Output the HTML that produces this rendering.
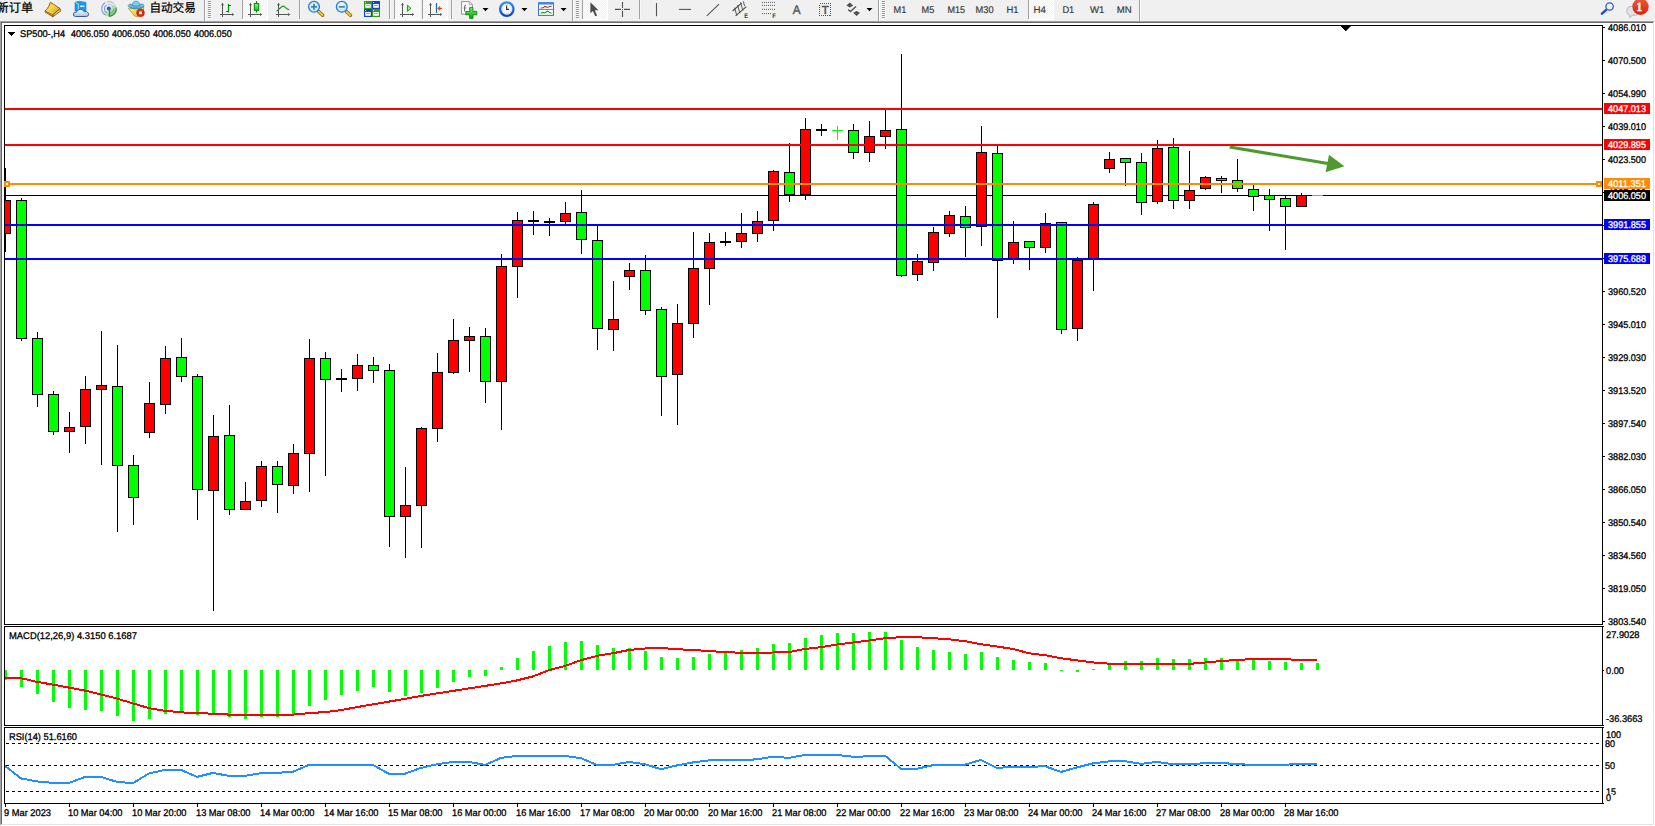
<!DOCTYPE html>
<html lang="zh"><head><meta charset="utf-8"><title>SP500-,H4</title>
<style>html,body{margin:0;padding:0;background:#f0f0f0}body{width:1655px;height:826px}svg{display:block}text{white-space:pre;text-rendering:geometricPrecision}</style>
</head><body>
<svg width="1655" height="826" viewBox="0 0 1655 826" shape-rendering="crispEdges" font-family='"Liberation Sans", sans-serif' style="display:block">
<defs>
<pattern id="chk" width="2" height="2" patternUnits="userSpaceOnUse"><rect width="2" height="2" fill="#f0f0f0"/><rect width="1" height="1" fill="#fff"/><rect x="1" y="1" width="1" height="1" fill="#fff"/></pattern>
<linearGradient id="gold" x1="0" y1="0" x2="1" y2="1"><stop offset="0" stop-color="#f2c83a"/><stop offset=".45" stop-color="#f7d84a"/><stop offset="1" stop-color="#c48a12"/></linearGradient>
<linearGradient id="cloud" x1="0" y1="0" x2="0" y2="1"><stop offset="0" stop-color="#ffffff"/><stop offset="1" stop-color="#aebfdc"/></linearGradient>
<linearGradient id="badge" x1="0" y1="0" x2="0" y2="1"><stop offset="0" stop-color="#ea5a3c"/><stop offset="1" stop-color="#de2208"/></linearGradient>
<linearGradient id="gcandle" x1="0" y1="0" x2="0" y2="1"><stop offset="0" stop-color="#7dff8a"/><stop offset="1" stop-color="#0ac41e"/></linearGradient>
<linearGradient id="gplus" x1="0" y1="0" x2="0" y2="1"><stop offset="0" stop-color="#6cf06c"/><stop offset="1" stop-color="#06a806"/></linearGradient>
<clipPath id="cm"><rect x="5" y="26" width="1597" height="598"/></clipPath>
<clipPath id="cd"><rect x="5" y="627" width="1597" height="98"/></clipPath>
<clipPath id="cr"><rect x="5" y="728" width="1597" height="75"/></clipPath>
<linearGradient id="sigg" x1="0" y1="0" x2="1" y2="1"><stop offset=".42" stop-color="#58b058" stop-opacity="0"/><stop offset=".62" stop-color="#58b058" stop-opacity=".35"/><stop offset="1" stop-color="#2e9a3a" stop-opacity=".85"/></linearGradient>
<linearGradient id="sigs" x1="0" y1="0" x2="1" y2=".6"><stop offset="0" stop-color="#3a66d8" stop-opacity=".75"/><stop offset=".45" stop-color="#5a80e0" stop-opacity=".35"/><stop offset=".6" stop-color="#58a868" stop-opacity=".5"/><stop offset="1" stop-color="#2a8a38" stop-opacity=".9"/></linearGradient>
<radialGradient id="lens" cx=".4" cy=".35" r=".7"><stop offset="0" stop-color="#f2fcff"/><stop offset="1" stop-color="#b4e2fb"/></radialGradient>
<linearGradient id="hat" x1="0" y1="0" x2="0" y2="1"><stop offset="0" stop-color="#8fd0ee"/><stop offset="1" stop-color="#3a9ccc"/></linearGradient>
<linearGradient id="face" x1="0" y1="0" x2="1" y2="1"><stop offset="0" stop-color="#fff08a"/><stop offset="1" stop-color="#e8b818"/></linearGradient>
<linearGradient id="clk" x1="0" y1="0" x2="0" y2="1"><stop offset="0" stop-color="#3a8cf0"/><stop offset="1" stop-color="#0a48b8"/></linearGradient>
</defs>
<rect x="0" y="0" width="1655" height="826" fill="#f0f0f0" />
<rect x="0" y="21" width="1654" height="804" fill="#a0a0a0" />
<rect x="1" y="22" width="1653" height="803" fill="#696969" />
<rect x="1654" y="21" width="1" height="805" fill="#ffffff" />
<rect x="0" y="825" width="1655" height="1" fill="#ffffff" />
<rect x="1653" y="22" width="1" height="803" fill="#e3e3e3" />
<rect x="1" y="824" width="1653" height="1" fill="#e3e3e3" />
<rect x="2" y="23" width="1651" height="801" fill="#ffffff" />
<rect x="4" y="25" width="1599" height="1" fill="#000" />
<rect x="4" y="624" width="1599" height="1" fill="#000" />
<rect x="4" y="25" width="1" height="600" fill="#000" />
<rect x="1602" y="25" width="1" height="600" fill="#000" />
<rect x="4" y="626" width="1599" height="1" fill="#000" />
<rect x="4" y="725" width="1599" height="1" fill="#000" />
<rect x="4" y="626" width="1" height="100" fill="#000" />
<rect x="1602" y="626" width="1" height="100" fill="#000" />
<rect x="4" y="727" width="1599" height="1" fill="#000" />
<rect x="4" y="803" width="1599" height="1" fill="#000" />
<rect x="4" y="727" width="1" height="77" fill="#000" />
<rect x="1602" y="727" width="1" height="77" fill="#000" />
<path d="M1341 26h10l-5 5z" fill="#000" shape-rendering="geometricPrecision"/>
<rect x="1341" y="26" width="9" height="1" fill="#000" />
<rect x="1342" y="27" width="7" height="1" fill="#000" />
<rect x="1343" y="28" width="5" height="1" fill="#000" />
<rect x="1344" y="29" width="3" height="1" fill="#000" />
<rect x="1345" y="30" width="1" height="1" fill="#000" />
<rect x="1603" y="27" width="2" height="1" fill="#000" />
<text x="1608" y="31" font-size="9.7" fill="#000" stroke="#000" stroke-width="0.3" textLength="38" lengthAdjust="spacingAndGlyphs" >4086.010</text>
<rect x="1603" y="60" width="2" height="1" fill="#000" />
<text x="1608" y="64" font-size="9.7" fill="#000" stroke="#000" stroke-width="0.3" textLength="38" lengthAdjust="spacingAndGlyphs" >4070.500</text>
<rect x="1603" y="93" width="2" height="1" fill="#000" />
<text x="1608" y="97" font-size="9.7" fill="#000" stroke="#000" stroke-width="0.3" textLength="38" lengthAdjust="spacingAndGlyphs" >4054.990</text>
<rect x="1603" y="126" width="2" height="1" fill="#000" />
<text x="1608" y="130" font-size="9.7" fill="#000" stroke="#000" stroke-width="0.3" textLength="38" lengthAdjust="spacingAndGlyphs" >4039.010</text>
<rect x="1603" y="159" width="2" height="1" fill="#000" />
<text x="1608" y="163" font-size="9.7" fill="#000" stroke="#000" stroke-width="0.3" textLength="38" lengthAdjust="spacingAndGlyphs" >4023.500</text>
<rect x="1603" y="192" width="2" height="1" fill="#000" />
<text x="1608" y="196" font-size="9.7" fill="#000" stroke="#000" stroke-width="0.3" textLength="38" lengthAdjust="spacingAndGlyphs" >4007.990</text>
<rect x="1603" y="225" width="2" height="1" fill="#000" />
<text x="1608" y="229" font-size="9.7" fill="#000" stroke="#000" stroke-width="0.3" textLength="38" lengthAdjust="spacingAndGlyphs" >3992.010</text>
<rect x="1603" y="258" width="2" height="1" fill="#000" />
<text x="1608" y="262" font-size="9.7" fill="#000" stroke="#000" stroke-width="0.3" textLength="38" lengthAdjust="spacingAndGlyphs" >3976.500</text>
<rect x="1603" y="291" width="2" height="1" fill="#000" />
<text x="1608" y="295" font-size="9.7" fill="#000" stroke="#000" stroke-width="0.3" textLength="38" lengthAdjust="spacingAndGlyphs" >3960.520</text>
<rect x="1603" y="324" width="2" height="1" fill="#000" />
<text x="1608" y="328" font-size="9.7" fill="#000" stroke="#000" stroke-width="0.3" textLength="38" lengthAdjust="spacingAndGlyphs" >3945.010</text>
<rect x="1603" y="357" width="2" height="1" fill="#000" />
<text x="1608" y="361" font-size="9.7" fill="#000" stroke="#000" stroke-width="0.3" textLength="38" lengthAdjust="spacingAndGlyphs" >3929.030</text>
<rect x="1603" y="390" width="2" height="1" fill="#000" />
<text x="1608" y="394" font-size="9.7" fill="#000" stroke="#000" stroke-width="0.3" textLength="38" lengthAdjust="spacingAndGlyphs" >3913.520</text>
<rect x="1603" y="423" width="2" height="1" fill="#000" />
<text x="1608" y="427" font-size="9.7" fill="#000" stroke="#000" stroke-width="0.3" textLength="38" lengthAdjust="spacingAndGlyphs" >3897.540</text>
<rect x="1603" y="456" width="2" height="1" fill="#000" />
<text x="1608" y="460" font-size="9.7" fill="#000" stroke="#000" stroke-width="0.3" textLength="38" lengthAdjust="spacingAndGlyphs" >3882.030</text>
<rect x="1603" y="489" width="2" height="1" fill="#000" />
<text x="1608" y="493" font-size="9.7" fill="#000" stroke="#000" stroke-width="0.3" textLength="38" lengthAdjust="spacingAndGlyphs" >3866.050</text>
<rect x="1603" y="522" width="2" height="1" fill="#000" />
<text x="1608" y="526" font-size="9.7" fill="#000" stroke="#000" stroke-width="0.3" textLength="38" lengthAdjust="spacingAndGlyphs" >3850.540</text>
<rect x="1603" y="555" width="2" height="1" fill="#000" />
<text x="1608" y="559" font-size="9.7" fill="#000" stroke="#000" stroke-width="0.3" textLength="38" lengthAdjust="spacingAndGlyphs" >3834.560</text>
<rect x="1603" y="588" width="2" height="1" fill="#000" />
<text x="1608" y="592" font-size="9.7" fill="#000" stroke="#000" stroke-width="0.3" textLength="38" lengthAdjust="spacingAndGlyphs" >3819.050</text>
<rect x="1603" y="621" width="2" height="1" fill="#000" />
<text x="1608" y="625" font-size="9.7" fill="#000" stroke="#000" stroke-width="0.3" textLength="38" lengthAdjust="spacingAndGlyphs" >3803.540</text>
<rect x="5" y="195" width="1597" height="1" fill="#000" />
<g clip-path="url(#cm)">
<rect x="5" y="168" width="1" height="84" fill="#000" />
<rect x="0" y="200" width="11" height="34" fill="#000" />
<rect x="1" y="201" width="9" height="32" fill="#ff0000" />
<rect x="21" y="198" width="1" height="143" fill="#000" />
<rect x="16" y="200" width="11" height="139" fill="#000" />
<rect x="17" y="201" width="9" height="137" fill="#00ff00" />
<rect x="37" y="332" width="1" height="75" fill="#000" />
<rect x="32" y="338" width="11" height="57" fill="#000" />
<rect x="33" y="339" width="9" height="55" fill="#00ff00" />
<rect x="53" y="391" width="1" height="44" fill="#000" />
<rect x="48" y="394" width="11" height="38" fill="#000" />
<rect x="49" y="395" width="9" height="36" fill="#00ff00" />
<rect x="69" y="412" width="1" height="41" fill="#000" />
<rect x="64" y="427" width="11" height="5" fill="#000" />
<rect x="65" y="428" width="9" height="3" fill="#ff0000" />
<rect x="85" y="376" width="1" height="68" fill="#000" />
<rect x="80" y="389" width="11" height="38" fill="#000" />
<rect x="81" y="390" width="9" height="36" fill="#ff0000" />
<rect x="101" y="331" width="1" height="134" fill="#000" />
<rect x="96" y="385" width="11" height="5" fill="#000" />
<rect x="97" y="386" width="9" height="3" fill="#ff0000" />
<rect x="117" y="345" width="1" height="187" fill="#000" />
<rect x="112" y="386" width="11" height="80" fill="#000" />
<rect x="113" y="387" width="9" height="78" fill="#00ff00" />
<rect x="133" y="455" width="1" height="70" fill="#000" />
<rect x="128" y="465" width="11" height="33" fill="#000" />
<rect x="129" y="466" width="9" height="31" fill="#00ff00" />
<rect x="149" y="382" width="1" height="56" fill="#000" />
<rect x="144" y="403" width="11" height="30" fill="#000" />
<rect x="145" y="404" width="9" height="28" fill="#ff0000" />
<rect x="165" y="346" width="1" height="68" fill="#000" />
<rect x="160" y="358" width="11" height="47" fill="#000" />
<rect x="161" y="359" width="9" height="45" fill="#ff0000" />
<rect x="181" y="338" width="1" height="44" fill="#000" />
<rect x="176" y="357" width="11" height="20" fill="#000" />
<rect x="177" y="358" width="9" height="18" fill="#00ff00" />
<rect x="197" y="374" width="1" height="146" fill="#000" />
<rect x="192" y="376" width="11" height="114" fill="#000" />
<rect x="193" y="377" width="9" height="112" fill="#00ff00" />
<rect x="213" y="415" width="1" height="196" fill="#000" />
<rect x="208" y="436" width="11" height="55" fill="#000" />
<rect x="209" y="437" width="9" height="53" fill="#ff0000" />
<rect x="229" y="405" width="1" height="110" fill="#000" />
<rect x="224" y="435" width="11" height="75" fill="#000" />
<rect x="225" y="436" width="9" height="73" fill="#00ff00" />
<rect x="245" y="482" width="1" height="28" fill="#000" />
<rect x="240" y="501" width="11" height="9" fill="#000" />
<rect x="241" y="502" width="9" height="7" fill="#ff0000" />
<rect x="261" y="461" width="1" height="46" fill="#000" />
<rect x="256" y="466" width="11" height="35" fill="#000" />
<rect x="257" y="467" width="9" height="33" fill="#ff0000" />
<rect x="277" y="461" width="1" height="52" fill="#000" />
<rect x="272" y="466" width="11" height="19" fill="#000" />
<rect x="273" y="467" width="9" height="17" fill="#00ff00" />
<rect x="293" y="444" width="1" height="50" fill="#000" />
<rect x="288" y="453" width="11" height="33" fill="#000" />
<rect x="289" y="454" width="9" height="31" fill="#ff0000" />
<rect x="309" y="339" width="1" height="153" fill="#000" />
<rect x="304" y="358" width="11" height="96" fill="#000" />
<rect x="305" y="359" width="9" height="94" fill="#ff0000" />
<rect x="325" y="352" width="1" height="124" fill="#000" />
<rect x="320" y="358" width="11" height="22" fill="#000" />
<rect x="321" y="359" width="9" height="20" fill="#00ff00" />
<rect x="341" y="369" width="1" height="23" fill="#000" />
<rect x="336" y="378" width="11" height="2" fill="#000" />
<rect x="357" y="354" width="1" height="37" fill="#000" />
<rect x="352" y="365" width="11" height="14" fill="#000" />
<rect x="353" y="366" width="9" height="12" fill="#ff0000" />
<rect x="373" y="357" width="1" height="26" fill="#000" />
<rect x="368" y="365" width="11" height="6" fill="#000" />
<rect x="369" y="366" width="9" height="4" fill="#00ff00" />
<rect x="389" y="364" width="1" height="183" fill="#000" />
<rect x="384" y="370" width="11" height="147" fill="#000" />
<rect x="385" y="371" width="9" height="145" fill="#00ff00" />
<rect x="405" y="467" width="1" height="91" fill="#000" />
<rect x="400" y="505" width="11" height="12" fill="#000" />
<rect x="401" y="506" width="9" height="10" fill="#ff0000" />
<rect x="421" y="427" width="1" height="121" fill="#000" />
<rect x="416" y="428" width="11" height="78" fill="#000" />
<rect x="417" y="429" width="9" height="76" fill="#ff0000" />
<rect x="437" y="353" width="1" height="89" fill="#000" />
<rect x="432" y="372" width="11" height="57" fill="#000" />
<rect x="433" y="373" width="9" height="55" fill="#ff0000" />
<rect x="453" y="319" width="1" height="55" fill="#000" />
<rect x="448" y="340" width="11" height="33" fill="#000" />
<rect x="449" y="341" width="9" height="31" fill="#ff0000" />
<rect x="469" y="327" width="1" height="45" fill="#000" />
<rect x="464" y="336" width="11" height="5" fill="#000" />
<rect x="465" y="337" width="9" height="3" fill="#ff0000" />
<rect x="485" y="328" width="1" height="75" fill="#000" />
<rect x="480" y="336" width="11" height="46" fill="#000" />
<rect x="481" y="337" width="9" height="44" fill="#00ff00" />
<rect x="501" y="254" width="1" height="176" fill="#000" />
<rect x="496" y="266" width="11" height="116" fill="#000" />
<rect x="497" y="267" width="9" height="114" fill="#ff0000" />
<rect x="517" y="212" width="1" height="86" fill="#000" />
<rect x="512" y="220" width="11" height="47" fill="#000" />
<rect x="513" y="221" width="9" height="45" fill="#ff0000" />
<rect x="533" y="211" width="1" height="24" fill="#000" />
<rect x="528" y="220" width="11" height="2" fill="#000" />
<rect x="549" y="218" width="1" height="18" fill="#000" />
<rect x="544" y="221" width="11" height="2" fill="#000" />
<rect x="565" y="202" width="1" height="22" fill="#000" />
<rect x="560" y="213" width="11" height="9" fill="#000" />
<rect x="561" y="214" width="9" height="7" fill="#ff0000" />
<rect x="581" y="190" width="1" height="64" fill="#000" />
<rect x="576" y="212" width="11" height="28" fill="#000" />
<rect x="577" y="213" width="9" height="26" fill="#00ff00" />
<rect x="597" y="226" width="1" height="124" fill="#000" />
<rect x="592" y="240" width="11" height="89" fill="#000" />
<rect x="593" y="241" width="9" height="87" fill="#00ff00" />
<rect x="613" y="281" width="1" height="70" fill="#000" />
<rect x="608" y="319" width="11" height="11" fill="#000" />
<rect x="609" y="320" width="9" height="9" fill="#ff0000" />
<rect x="629" y="263" width="1" height="27" fill="#000" />
<rect x="624" y="270" width="11" height="7" fill="#000" />
<rect x="625" y="271" width="9" height="5" fill="#ff0000" />
<rect x="645" y="255" width="1" height="60" fill="#000" />
<rect x="640" y="270" width="11" height="41" fill="#000" />
<rect x="641" y="271" width="9" height="39" fill="#00ff00" />
<rect x="661" y="307" width="1" height="109" fill="#000" />
<rect x="656" y="309" width="11" height="68" fill="#000" />
<rect x="657" y="310" width="9" height="66" fill="#00ff00" />
<rect x="677" y="304" width="1" height="121" fill="#000" />
<rect x="672" y="323" width="11" height="52" fill="#000" />
<rect x="673" y="324" width="9" height="50" fill="#ff0000" />
<rect x="693" y="232" width="1" height="106" fill="#000" />
<rect x="688" y="268" width="11" height="56" fill="#000" />
<rect x="689" y="269" width="9" height="54" fill="#ff0000" />
<rect x="709" y="233" width="1" height="72" fill="#000" />
<rect x="704" y="242" width="11" height="27" fill="#000" />
<rect x="705" y="243" width="9" height="25" fill="#ff0000" />
<rect x="725" y="232" width="1" height="14" fill="#000" />
<rect x="720" y="241" width="11" height="2" fill="#000" />
<rect x="741" y="213" width="1" height="35" fill="#000" />
<rect x="736" y="233" width="11" height="9" fill="#000" />
<rect x="737" y="234" width="9" height="7" fill="#ff0000" />
<rect x="757" y="211" width="1" height="31" fill="#000" />
<rect x="752" y="221" width="11" height="13" fill="#000" />
<rect x="753" y="222" width="9" height="11" fill="#ff0000" />
<rect x="773" y="170" width="1" height="61" fill="#000" />
<rect x="768" y="171" width="11" height="50" fill="#000" />
<rect x="769" y="172" width="9" height="48" fill="#ff0000" />
<rect x="789" y="143" width="1" height="59" fill="#000" />
<rect x="784" y="172" width="11" height="23" fill="#000" />
<rect x="785" y="173" width="9" height="21" fill="#00ff00" />
<rect x="805" y="118" width="1" height="82" fill="#000" />
<rect x="800" y="129" width="11" height="66" fill="#000" />
<rect x="801" y="130" width="9" height="64" fill="#ff0000" />
<rect x="821" y="124" width="1" height="12" fill="#000" />
<rect x="816" y="129" width="11" height="2" fill="#000" />
<rect x="837" y="126" width="1" height="14" fill="#00ff00" />
<rect x="832" y="130" width="11" height="1" fill="#00ff00" />
<rect x="853" y="124" width="1" height="35" fill="#000" />
<rect x="848" y="130" width="11" height="23" fill="#000" />
<rect x="849" y="131" width="9" height="21" fill="#00ff00" />
<rect x="869" y="121" width="1" height="41" fill="#000" />
<rect x="864" y="136" width="11" height="17" fill="#000" />
<rect x="865" y="137" width="9" height="15" fill="#ff0000" />
<rect x="885" y="110" width="1" height="39" fill="#000" />
<rect x="880" y="130" width="11" height="7" fill="#000" />
<rect x="881" y="131" width="9" height="5" fill="#ff0000" />
<rect x="901" y="54" width="1" height="223" fill="#000" />
<rect x="896" y="129" width="11" height="147" fill="#000" />
<rect x="897" y="130" width="9" height="145" fill="#00ff00" />
<rect x="917" y="254" width="1" height="27" fill="#000" />
<rect x="912" y="261" width="11" height="14" fill="#000" />
<rect x="913" y="262" width="9" height="12" fill="#ff0000" />
<rect x="933" y="227" width="1" height="44" fill="#000" />
<rect x="928" y="232" width="11" height="31" fill="#000" />
<rect x="929" y="233" width="9" height="29" fill="#ff0000" />
<rect x="949" y="211" width="1" height="26" fill="#000" />
<rect x="944" y="215" width="11" height="19" fill="#000" />
<rect x="945" y="216" width="9" height="17" fill="#ff0000" />
<rect x="965" y="206" width="1" height="51" fill="#000" />
<rect x="960" y="216" width="11" height="12" fill="#000" />
<rect x="961" y="217" width="9" height="10" fill="#00ff00" />
<rect x="981" y="126" width="1" height="120" fill="#000" />
<rect x="976" y="152" width="11" height="75" fill="#000" />
<rect x="977" y="153" width="9" height="73" fill="#ff0000" />
<rect x="997" y="146" width="1" height="172" fill="#000" />
<rect x="992" y="153" width="11" height="108" fill="#000" />
<rect x="993" y="154" width="9" height="106" fill="#00ff00" />
<rect x="1013" y="221" width="1" height="43" fill="#000" />
<rect x="1008" y="242" width="11" height="17" fill="#000" />
<rect x="1009" y="243" width="9" height="15" fill="#ff0000" />
<rect x="1029" y="241" width="1" height="29" fill="#000" />
<rect x="1024" y="241" width="11" height="7" fill="#000" />
<rect x="1025" y="242" width="9" height="5" fill="#00ff00" />
<rect x="1045" y="213" width="1" height="40" fill="#000" />
<rect x="1040" y="223" width="11" height="25" fill="#000" />
<rect x="1041" y="224" width="9" height="23" fill="#ff0000" />
<rect x="1061" y="222" width="1" height="112" fill="#000" />
<rect x="1056" y="222" width="11" height="108" fill="#000" />
<rect x="1057" y="223" width="9" height="106" fill="#00ff00" />
<rect x="1077" y="257" width="1" height="84" fill="#000" />
<rect x="1072" y="260" width="11" height="69" fill="#000" />
<rect x="1073" y="261" width="9" height="67" fill="#ff0000" />
<rect x="1093" y="202" width="1" height="89" fill="#000" />
<rect x="1088" y="204" width="11" height="55" fill="#000" />
<rect x="1089" y="205" width="9" height="53" fill="#ff0000" />
<rect x="1109" y="152" width="1" height="21" fill="#000" />
<rect x="1104" y="159" width="11" height="10" fill="#000" />
<rect x="1105" y="160" width="9" height="8" fill="#ff0000" />
<rect x="1125" y="158" width="1" height="28" fill="#000" />
<rect x="1120" y="158" width="11" height="5" fill="#000" />
<rect x="1121" y="159" width="9" height="3" fill="#00ff00" />
<rect x="1141" y="153" width="1" height="62" fill="#000" />
<rect x="1136" y="162" width="11" height="41" fill="#000" />
<rect x="1137" y="163" width="9" height="39" fill="#00ff00" />
<rect x="1157" y="140" width="1" height="64" fill="#000" />
<rect x="1152" y="148" width="11" height="54" fill="#000" />
<rect x="1153" y="149" width="9" height="52" fill="#ff0000" />
<rect x="1173" y="138" width="1" height="71" fill="#000" />
<rect x="1168" y="147" width="11" height="54" fill="#000" />
<rect x="1169" y="148" width="9" height="52" fill="#00ff00" />
<rect x="1189" y="151" width="1" height="58" fill="#000" />
<rect x="1184" y="190" width="11" height="11" fill="#000" />
<rect x="1185" y="191" width="9" height="9" fill="#ff0000" />
<rect x="1205" y="176" width="1" height="14" fill="#000" />
<rect x="1200" y="177" width="11" height="12" fill="#000" />
<rect x="1201" y="178" width="9" height="10" fill="#ff0000" />
<rect x="1221" y="176" width="1" height="17" fill="#000" />
<rect x="1216" y="178" width="11" height="3" fill="#000" />
<rect x="1217" y="179" width="9" height="1" fill="#00ff00" />
<rect x="1237" y="159" width="1" height="33" fill="#000" />
<rect x="1232" y="180" width="11" height="9" fill="#000" />
<rect x="1233" y="181" width="9" height="7" fill="#00ff00" />
<rect x="1253" y="185" width="1" height="26" fill="#000" />
<rect x="1248" y="189" width="11" height="8" fill="#000" />
<rect x="1249" y="190" width="9" height="6" fill="#00ff00" />
<rect x="1269" y="189" width="1" height="42" fill="#000" />
<rect x="1264" y="195" width="11" height="5" fill="#000" />
<rect x="1265" y="196" width="9" height="3" fill="#00ff00" />
<rect x="1285" y="196" width="1" height="54" fill="#000" />
<rect x="1280" y="198" width="11" height="9" fill="#000" />
<rect x="1281" y="199" width="9" height="7" fill="#00ff00" />
<rect x="1301" y="193" width="1" height="14" fill="#000" />
<rect x="1296" y="195" width="11" height="12" fill="#000" />
<rect x="1297" y="196" width="9" height="10" fill="#ff0000" />
</g>
<rect x="2" y="26" width="2" height="598" fill="#fff" />
<rect x="4" y="25" width="1" height="600" fill="#000" />
<rect x="5" y="108" width="1597" height="2" fill="#ff0000" />
<rect x="5" y="144" width="1597" height="2" fill="#ff0000" />
<rect x="5" y="224" width="1597" height="2" fill="#0000ff" />
<rect x="5" y="258" width="1597" height="2" fill="#0000ff" />
<rect x="1312" y="195" width="11" height="1" fill="#00ff00" />
<rect x="5" y="183" width="1597" height="2" fill="#ff8c00" />
<rect x="4" y="181" width="6" height="6" fill="#ff8c00" />
<rect x="6" y="183" width="2" height="2" fill="#fff" />
<rect x="1596" y="181" width="6" height="6" fill="#ff8c00" />
<rect x="1598" y="183" width="2" height="2" fill="#fff" />
<rect x="4" y="25" width="1" height="156" fill="#000" />
<rect x="4" y="187" width="1" height="438" fill="#000" />
<rect x="1604" y="103" width="46" height="11" fill="#ff0000" />
<text x="1608" y="112" font-size="9.7" fill="#fff" stroke="#fff" stroke-width="0.3" textLength="38" lengthAdjust="spacingAndGlyphs" >4047.013</text>
<rect x="1604" y="139" width="46" height="11" fill="#ff0000" />
<text x="1608" y="148" font-size="9.7" fill="#fff" stroke="#fff" stroke-width="0.3" textLength="38" lengthAdjust="spacingAndGlyphs" >4029.895</text>
<rect x="1604" y="190" width="46" height="11" fill="#000000" />
<text x="1608" y="199" font-size="9.7" fill="#fff" stroke="#fff" stroke-width="0.3" textLength="38" lengthAdjust="spacingAndGlyphs" >4006.050</text>
<rect x="1604" y="178" width="46" height="11" fill="#ff8c00" />
<text x="1608" y="187" font-size="9.7" fill="#fff" stroke="#fff" stroke-width="0.3" textLength="38" lengthAdjust="spacingAndGlyphs" >4011.351</text>
<rect x="1604" y="219" width="46" height="11" fill="#0000ff" />
<text x="1608" y="228" font-size="9.7" fill="#fff" stroke="#fff" stroke-width="0.3" textLength="38" lengthAdjust="spacingAndGlyphs" >3991.855</text>
<rect x="1604" y="253" width="46" height="11" fill="#0000ff" />
<text x="1608" y="262" font-size="9.7" fill="#fff" stroke="#fff" stroke-width="0.3" textLength="38" lengthAdjust="spacingAndGlyphs" >3975.688</text>
<g shape-rendering="geometricPrecision" fill="#4e9a2f" stroke="none"><path d="M1229.3 148.4 L1229.9 145.4 L1328.3 162.0 L1327.6 165.1z"/><path d="M1329 154.8 L1344.4 166.3 L1325.6 172.2z"/></g>
<rect x="8" y="32" width="7" height="1" fill="#000" />
<rect x="9" y="33" width="5" height="1" fill="#000" />
<rect x="10" y="34" width="3" height="1" fill="#000" />
<rect x="11" y="35" width="1" height="1" fill="#000" />
<text x="20" y="37" font-size="9.7" fill="#000" stroke="#000" stroke-width="0.3" textLength="45" lengthAdjust="spacingAndGlyphs" >SP500-,H4</text>
<text x="71" y="37" font-size="9.7" fill="#000" stroke="#000" stroke-width="0.3" textLength="37.7" lengthAdjust="spacingAndGlyphs" >4006.050</text>
<text x="112" y="37" font-size="9.7" fill="#000" stroke="#000" stroke-width="0.3" textLength="37.7" lengthAdjust="spacingAndGlyphs" >4006.050</text>
<text x="153" y="37" font-size="9.7" fill="#000" stroke="#000" stroke-width="0.3" textLength="37.7" lengthAdjust="spacingAndGlyphs" >4006.050</text>
<text x="194" y="37" font-size="9.7" fill="#000" stroke="#000" stroke-width="0.3" textLength="37.7" lengthAdjust="spacingAndGlyphs" >4006.050</text>
<g clip-path="url(#cd)">
<rect x="4" y="670" width="3" height="10" fill="#00ff00" />
<rect x="20" y="670" width="3" height="17" fill="#00ff00" />
<rect x="36" y="670" width="3" height="24" fill="#00ff00" />
<rect x="52" y="670" width="3" height="32" fill="#00ff00" />
<rect x="68" y="670" width="3" height="38" fill="#00ff00" />
<rect x="84" y="670" width="3" height="40" fill="#00ff00" />
<rect x="100" y="670" width="3" height="41" fill="#00ff00" />
<rect x="116" y="670" width="3" height="46" fill="#00ff00" />
<rect x="132" y="670" width="3" height="51" fill="#00ff00" />
<rect x="148" y="670" width="3" height="49" fill="#00ff00" />
<rect x="164" y="670" width="3" height="44" fill="#00ff00" />
<rect x="180" y="670" width="3" height="43" fill="#00ff00" />
<rect x="196" y="670" width="3" height="45" fill="#00ff00" />
<rect x="212" y="670" width="3" height="44" fill="#00ff00" />
<rect x="228" y="670" width="3" height="47" fill="#00ff00" />
<rect x="244" y="670" width="3" height="49" fill="#00ff00" />
<rect x="260" y="670" width="3" height="47" fill="#00ff00" />
<rect x="276" y="670" width="3" height="47" fill="#00ff00" />
<rect x="292" y="670" width="3" height="45" fill="#00ff00" />
<rect x="308" y="670" width="3" height="36" fill="#00ff00" />
<rect x="324" y="670" width="3" height="30" fill="#00ff00" />
<rect x="340" y="670" width="3" height="25" fill="#00ff00" />
<rect x="356" y="670" width="3" height="21" fill="#00ff00" />
<rect x="372" y="670" width="3" height="17" fill="#00ff00" />
<rect x="388" y="670" width="3" height="22" fill="#00ff00" />
<rect x="404" y="670" width="3" height="26" fill="#00ff00" />
<rect x="420" y="670" width="3" height="23" fill="#00ff00" />
<rect x="436" y="670" width="3" height="18" fill="#00ff00" />
<rect x="452" y="670" width="3" height="12" fill="#00ff00" />
<rect x="468" y="670" width="3" height="7" fill="#00ff00" />
<rect x="484" y="670" width="3" height="6" fill="#00ff00" />
<rect x="500" y="667" width="3" height="3" fill="#00ff00" />
<rect x="516" y="658" width="3" height="12" fill="#00ff00" />
<rect x="532" y="651" width="3" height="19" fill="#00ff00" />
<rect x="548" y="646" width="3" height="24" fill="#00ff00" />
<rect x="564" y="642" width="3" height="28" fill="#00ff00" />
<rect x="580" y="641" width="3" height="29" fill="#00ff00" />
<rect x="596" y="645" width="3" height="25" fill="#00ff00" />
<rect x="612" y="648" width="3" height="22" fill="#00ff00" />
<rect x="628" y="648" width="3" height="22" fill="#00ff00" />
<rect x="644" y="651" width="3" height="19" fill="#00ff00" />
<rect x="660" y="657" width="3" height="13" fill="#00ff00" />
<rect x="676" y="658" width="3" height="12" fill="#00ff00" />
<rect x="692" y="657" width="3" height="13" fill="#00ff00" />
<rect x="708" y="654" width="3" height="16" fill="#00ff00" />
<rect x="724" y="653" width="3" height="17" fill="#00ff00" />
<rect x="740" y="650" width="3" height="20" fill="#00ff00" />
<rect x="756" y="648" width="3" height="22" fill="#00ff00" />
<rect x="772" y="644" width="3" height="26" fill="#00ff00" />
<rect x="788" y="643" width="3" height="27" fill="#00ff00" />
<rect x="804" y="638" width="3" height="32" fill="#00ff00" />
<rect x="820" y="635" width="3" height="35" fill="#00ff00" />
<rect x="836" y="633" width="3" height="37" fill="#00ff00" />
<rect x="852" y="633" width="3" height="37" fill="#00ff00" />
<rect x="868" y="632" width="3" height="38" fill="#00ff00" />
<rect x="884" y="632" width="3" height="38" fill="#00ff00" />
<rect x="900" y="640" width="3" height="30" fill="#00ff00" />
<rect x="916" y="647" width="3" height="23" fill="#00ff00" />
<rect x="932" y="650" width="3" height="20" fill="#00ff00" />
<rect x="948" y="652" width="3" height="18" fill="#00ff00" />
<rect x="964" y="654" width="3" height="16" fill="#00ff00" />
<rect x="980" y="652" width="3" height="18" fill="#00ff00" />
<rect x="996" y="657" width="3" height="13" fill="#00ff00" />
<rect x="1012" y="660" width="3" height="10" fill="#00ff00" />
<rect x="1028" y="662" width="3" height="8" fill="#00ff00" />
<rect x="1044" y="663" width="3" height="7" fill="#00ff00" />
<rect x="1060" y="670" width="3" height="1" fill="#00ff00" />
<rect x="1076" y="670" width="3" height="2" fill="#00ff00" />
<rect x="1092" y="669" width="3" height="1" fill="#00ff00" />
<rect x="1108" y="663" width="3" height="7" fill="#00ff00" />
<rect x="1124" y="661" width="3" height="9" fill="#00ff00" />
<rect x="1140" y="661" width="3" height="9" fill="#00ff00" />
<rect x="1156" y="658" width="3" height="12" fill="#00ff00" />
<rect x="1172" y="659" width="3" height="11" fill="#00ff00" />
<rect x="1188" y="659" width="3" height="11" fill="#00ff00" />
<rect x="1204" y="658" width="3" height="12" fill="#00ff00" />
<rect x="1220" y="658" width="3" height="12" fill="#00ff00" />
<rect x="1236" y="660" width="3" height="10" fill="#00ff00" />
<rect x="1252" y="660" width="3" height="10" fill="#00ff00" />
<rect x="1268" y="661" width="3" height="9" fill="#00ff00" />
<rect x="1284" y="662" width="3" height="8" fill="#00ff00" />
<rect x="1300" y="663" width="3" height="7" fill="#00ff00" />
<rect x="1316" y="663" width="3" height="7" fill="#00ff00" />
<polyline points="5,677.7 21,678.2 37,681.9 53,684.6 69,687.6 85,690.6 101,694.6 117,698.6 133,703.4 149,708.1 165,710.8 181,712.3 197,713.3 213,713.6 229,714.6 245,715.1 261,715.1 277,715.1 293,714.6 309,713.1 325,712.1 341,710.1 357,707.1 373,704.4 389,701.6 405,698.9 421,695.9 437,693.4 453,690.9 469,688.4 485,685.9 501,683.4 517,680.4 533,676.4 549,670.2 565,665.9 581,660.2 597,655.9 613,653.2 629,650.0 645,648.5 661,648.0 677,649.2 693,650.0 709,651.0 725,652.2 741,652.7 757,652.7 773,652.5 789,652.0 805,649.0 821,647.2 837,644.5 853,642.5 869,640.5 885,638.2 901,637.2 917,637.2 933,638.2 949,639.2 965,641.2 981,644.2 997,646.5 1013,649.0 1029,653.2 1045,655.2 1061,658.2 1077,660.4 1093,662.4 1109,663.7 1125,663.9 1141,663.9 1157,663.9 1173,663.9 1189,663.9 1205,662.5 1221,661.0 1237,660.0 1253,659.0 1269,658.6 1285,659.2 1301,660.0 1317,660.0" fill="none" stroke="#ff0000" stroke-width="2" stroke-linejoin="round" shape-rendering="crispEdges"/>
</g>
<rect x="2" y="627" width="2" height="98" fill="#fff" />
<rect x="4" y="626" width="1" height="100" fill="#000" />
<text x="9" y="639" font-size="9.7" fill="#000" stroke="#000" stroke-width="0.3" textLength="128" lengthAdjust="spacingAndGlyphs" >MACD(12,26,9) 4.3150 6.1687</text>
<rect x="1603" y="626" width="1" height="1" fill="#000" />
<rect x="1603" y="670" width="1" height="1" fill="#000" />
<rect x="1603" y="725" width="1" height="1" fill="#000" />
<text x="1606" y="638" font-size="9.7" fill="#000" stroke="#000" stroke-width="0.3" textLength="33.5" lengthAdjust="spacingAndGlyphs" >27.9028</text>
<text x="1606" y="674" font-size="9.7" fill="#000" stroke="#000" stroke-width="0.3" textLength="18" lengthAdjust="spacingAndGlyphs" >0.00</text>
<text x="1606" y="722" font-size="9.7" fill="#000" stroke="#000" stroke-width="0.3" textLength="36.5" lengthAdjust="spacingAndGlyphs" >-36.3663</text>
<path d="M6 743.5H1602" stroke="#000" stroke-width="1" stroke-dasharray="3 3" fill="none"/>
<path d="M6 765.5H1602" stroke="#000" stroke-width="1" stroke-dasharray="3 3" fill="none"/>
<path d="M6 791.5H1602" stroke="#000" stroke-width="1" stroke-dasharray="3 3" fill="none"/>
<polyline points="5,765.9 21,778.4 37,781.4 53,782.9 69,782.9 85,776.9 101,776.9 117,781.9 133,783.1 149,773.4 165,769.9 181,769.9 197,776.9 213,772.9 229,775.9 245,775.9 261,773.2 277,772.9 293,771.7 309,764.9 325,764.9 341,764.9 357,764.9 373,764.9 389,773.9 405,773.7 421,767.9 437,764.2 453,761.9 469,761.9 485,764.9 501,757.9 517,755.9 533,755.9 549,755.9 565,755.9 581,758.2 597,764.9 613,764.9 629,761.9 645,764.2 661,769.2 677,765.4 693,762.4 709,760.4 725,759.9 741,759.9 757,759.4 773,756.7 789,757.9 805,754.9 821,754.9 837,754.9 853,756.7 869,756.4 885,755.7 901,768.9 917,768.7 933,765.2 949,764.9 965,764.7 981,759.9 997,767.9 1013,766.9 1029,766.9 1045,766.2 1061,771.9 1077,767.4 1093,763.4 1109,761.4 1125,761.2 1141,763.9 1157,761.9 1173,764.2 1189,764.2 1205,763.2 1221,762.9 1237,764.2 1253,764.8 1269,764.8 1285,764.6 1301,764.2 1317,763.7" fill="none" stroke="#1e90ff" stroke-width="2" stroke-linejoin="round" shape-rendering="crispEdges" clip-path="url(#cr)"/>
<text x="9" y="740" font-size="9.7" fill="#000" stroke="#000" stroke-width="0.3" textLength="68" lengthAdjust="spacingAndGlyphs" >RSI(14) 51.6160</text>
<text x="1606" y="738" font-size="9.7" fill="#000" stroke="#000" stroke-width="0.3" textLength="15" lengthAdjust="spacingAndGlyphs" >100</text>
<text x="1605" y="747" font-size="9.7" fill="#000" stroke="#000" stroke-width="0.3" textLength="10" lengthAdjust="spacingAndGlyphs" >80</text>
<text x="1605" y="769" font-size="9.7" fill="#000" stroke="#000" stroke-width="0.3" textLength="10" lengthAdjust="spacingAndGlyphs" >50</text>
<text x="1606" y="795" font-size="9.7" fill="#000" stroke="#000" stroke-width="0.3" textLength="10" lengthAdjust="spacingAndGlyphs" >15</text>
<rect x="1605" y="794" width="8" height="8" fill="#fff" />
<text x="1606" y="801" font-size="9.7" fill="#000" stroke="#000" stroke-width="0.3" textLength="5" lengthAdjust="spacingAndGlyphs" >0</text>
<rect x="1603" y="727" width="1" height="1" fill="#000" />
<rect x="1603" y="803" width="1" height="1" fill="#000" />
<rect x="5" y="804" width="1" height="3" fill="#000" />
<text x="4" y="816" font-size="9.7" fill="#000" stroke="#000" stroke-width="0.3" textLength="47" lengthAdjust="spacingAndGlyphs" >9 Mar 2023</text>
<rect x="69" y="804" width="1" height="3" fill="#000" />
<text x="68" y="816" font-size="9.7" fill="#000" stroke="#000" stroke-width="0.3" textLength="54.5" lengthAdjust="spacingAndGlyphs" >10 Mar 04:00</text>
<rect x="133" y="804" width="1" height="3" fill="#000" />
<text x="132" y="816" font-size="9.7" fill="#000" stroke="#000" stroke-width="0.3" textLength="54.5" lengthAdjust="spacingAndGlyphs" >10 Mar 20:00</text>
<rect x="197" y="804" width="1" height="3" fill="#000" />
<text x="196" y="816" font-size="9.7" fill="#000" stroke="#000" stroke-width="0.3" textLength="54.5" lengthAdjust="spacingAndGlyphs" >13 Mar 08:00</text>
<rect x="261" y="804" width="1" height="3" fill="#000" />
<text x="260" y="816" font-size="9.7" fill="#000" stroke="#000" stroke-width="0.3" textLength="54.5" lengthAdjust="spacingAndGlyphs" >14 Mar 00:00</text>
<rect x="325" y="804" width="1" height="3" fill="#000" />
<text x="324" y="816" font-size="9.7" fill="#000" stroke="#000" stroke-width="0.3" textLength="54.5" lengthAdjust="spacingAndGlyphs" >14 Mar 16:00</text>
<rect x="389" y="804" width="1" height="3" fill="#000" />
<text x="388" y="816" font-size="9.7" fill="#000" stroke="#000" stroke-width="0.3" textLength="54.5" lengthAdjust="spacingAndGlyphs" >15 Mar 08:00</text>
<rect x="453" y="804" width="1" height="3" fill="#000" />
<text x="452" y="816" font-size="9.7" fill="#000" stroke="#000" stroke-width="0.3" textLength="54.5" lengthAdjust="spacingAndGlyphs" >16 Mar 00:00</text>
<rect x="517" y="804" width="1" height="3" fill="#000" />
<text x="516" y="816" font-size="9.7" fill="#000" stroke="#000" stroke-width="0.3" textLength="54.5" lengthAdjust="spacingAndGlyphs" >16 Mar 16:00</text>
<rect x="581" y="804" width="1" height="3" fill="#000" />
<text x="580" y="816" font-size="9.7" fill="#000" stroke="#000" stroke-width="0.3" textLength="54.5" lengthAdjust="spacingAndGlyphs" >17 Mar 08:00</text>
<rect x="645" y="804" width="1" height="3" fill="#000" />
<text x="644" y="816" font-size="9.7" fill="#000" stroke="#000" stroke-width="0.3" textLength="54.5" lengthAdjust="spacingAndGlyphs" >20 Mar 00:00</text>
<rect x="709" y="804" width="1" height="3" fill="#000" />
<text x="708" y="816" font-size="9.7" fill="#000" stroke="#000" stroke-width="0.3" textLength="54.5" lengthAdjust="spacingAndGlyphs" >20 Mar 16:00</text>
<rect x="773" y="804" width="1" height="3" fill="#000" />
<text x="772" y="816" font-size="9.7" fill="#000" stroke="#000" stroke-width="0.3" textLength="54.5" lengthAdjust="spacingAndGlyphs" >21 Mar 08:00</text>
<rect x="837" y="804" width="1" height="3" fill="#000" />
<text x="836" y="816" font-size="9.7" fill="#000" stroke="#000" stroke-width="0.3" textLength="54.5" lengthAdjust="spacingAndGlyphs" >22 Mar 00:00</text>
<rect x="901" y="804" width="1" height="3" fill="#000" />
<text x="900" y="816" font-size="9.7" fill="#000" stroke="#000" stroke-width="0.3" textLength="54.5" lengthAdjust="spacingAndGlyphs" >22 Mar 16:00</text>
<rect x="965" y="804" width="1" height="3" fill="#000" />
<text x="964" y="816" font-size="9.7" fill="#000" stroke="#000" stroke-width="0.3" textLength="54.5" lengthAdjust="spacingAndGlyphs" >23 Mar 08:00</text>
<rect x="1029" y="804" width="1" height="3" fill="#000" />
<text x="1028" y="816" font-size="9.7" fill="#000" stroke="#000" stroke-width="0.3" textLength="54.5" lengthAdjust="spacingAndGlyphs" >24 Mar 00:00</text>
<rect x="1093" y="804" width="1" height="3" fill="#000" />
<text x="1092" y="816" font-size="9.7" fill="#000" stroke="#000" stroke-width="0.3" textLength="54.5" lengthAdjust="spacingAndGlyphs" >24 Mar 16:00</text>
<rect x="1157" y="804" width="1" height="3" fill="#000" />
<text x="1156" y="816" font-size="9.7" fill="#000" stroke="#000" stroke-width="0.3" textLength="54.5" lengthAdjust="spacingAndGlyphs" >27 Mar 08:00</text>
<rect x="1221" y="804" width="1" height="3" fill="#000" />
<text x="1220" y="816" font-size="9.7" fill="#000" stroke="#000" stroke-width="0.3" textLength="54.5" lengthAdjust="spacingAndGlyphs" >28 Mar 00:00</text>
<rect x="1285" y="804" width="1" height="3" fill="#000" />
<text x="1284" y="816" font-size="9.7" fill="#000" stroke="#000" stroke-width="0.3" textLength="54.5" lengthAdjust="spacingAndGlyphs" >28 Mar 16:00</text>
<rect x="243" y="0" width="24" height="19" fill="url(#chk)"/>
<rect x="242" y="19" width="26" height="1" fill="#fff"/><rect x="267" y="0" width="1" height="20" fill="#fff"/>
<rect x="242" y="0" width="1" height="19" fill="#a0a0a0"/>
<rect x="395" y="0" width="24" height="19" fill="url(#chk)"/>
<rect x="394" y="19" width="26" height="1" fill="#fff"/><rect x="419" y="0" width="1" height="20" fill="#fff"/>
<rect x="394" y="0" width="1" height="19" fill="#a0a0a0"/>
<rect x="423" y="0" width="24" height="19" fill="url(#chk)"/>
<rect x="422" y="19" width="26" height="1" fill="#fff"/><rect x="447" y="0" width="1" height="20" fill="#fff"/>
<rect x="422" y="0" width="1" height="19" fill="#a0a0a0"/>
<rect x="583" y="0" width="24" height="19" fill="url(#chk)"/>
<rect x="582" y="19" width="26" height="1" fill="#fff"/><rect x="607" y="0" width="1" height="20" fill="#fff"/>
<rect x="582" y="0" width="1" height="19" fill="#a0a0a0"/>
<rect x="1029" y="0" width="24" height="19" fill="url(#chk)"/>
<rect x="1028" y="19" width="26" height="1" fill="#fff"/><rect x="1053" y="0" width="1" height="20" fill="#fff"/>
<rect x="1028" y="0" width="1" height="19" fill="#a0a0a0"/>
<rect x="204" y="0" width="1" height="21" fill="#a0a0a0"/>
<rect x="205" y="0" width="1" height="21" fill="#fff"/>
<rect x="572" y="0" width="1" height="21" fill="#a0a0a0"/>
<rect x="573" y="0" width="1" height="21" fill="#fff"/>
<rect x="878" y="0" width="1" height="21" fill="#a0a0a0"/>
<rect x="879" y="0" width="1" height="21" fill="#fff"/>
<rect x="1139" y="0" width="1" height="21" fill="#a0a0a0"/>
<rect x="1140" y="0" width="1" height="21" fill="#fff"/>
<rect x="299" y="0" width="1" height="19" fill="#a0a0a0"/>
<rect x="300" y="0" width="1" height="19" fill="#f8f8f8"/>
<rect x="389" y="0" width="1" height="19" fill="#a0a0a0"/>
<rect x="390" y="0" width="1" height="19" fill="#f8f8f8"/>
<rect x="451" y="0" width="1" height="19" fill="#a0a0a0"/>
<rect x="452" y="0" width="1" height="19" fill="#f8f8f8"/>
<rect x="639" y="0" width="1" height="19" fill="#a0a0a0"/>
<rect x="640" y="0" width="1" height="19" fill="#f8f8f8"/>
<rect x="208" y="1" width="3" height="1" fill="#9a9a9a"/>
<rect x="209" y="2" width="3" height="1" fill="#fafafa"/>
<rect x="208" y="3" width="3" height="1" fill="#9a9a9a"/>
<rect x="209" y="4" width="3" height="1" fill="#fafafa"/>
<rect x="208" y="5" width="3" height="1" fill="#9a9a9a"/>
<rect x="209" y="6" width="3" height="1" fill="#fafafa"/>
<rect x="208" y="7" width="3" height="1" fill="#9a9a9a"/>
<rect x="209" y="8" width="3" height="1" fill="#fafafa"/>
<rect x="208" y="9" width="3" height="1" fill="#9a9a9a"/>
<rect x="209" y="10" width="3" height="1" fill="#fafafa"/>
<rect x="208" y="11" width="3" height="1" fill="#9a9a9a"/>
<rect x="209" y="12" width="3" height="1" fill="#fafafa"/>
<rect x="208" y="13" width="3" height="1" fill="#9a9a9a"/>
<rect x="209" y="14" width="3" height="1" fill="#fafafa"/>
<rect x="208" y="15" width="3" height="1" fill="#9a9a9a"/>
<rect x="209" y="16" width="3" height="1" fill="#fafafa"/>
<rect x="208" y="17" width="3" height="1" fill="#9a9a9a"/>
<rect x="209" y="18" width="3" height="1" fill="#fafafa"/>
<rect x="576" y="1" width="3" height="1" fill="#9a9a9a"/>
<rect x="577" y="2" width="3" height="1" fill="#fafafa"/>
<rect x="576" y="3" width="3" height="1" fill="#9a9a9a"/>
<rect x="577" y="4" width="3" height="1" fill="#fafafa"/>
<rect x="576" y="5" width="3" height="1" fill="#9a9a9a"/>
<rect x="577" y="6" width="3" height="1" fill="#fafafa"/>
<rect x="576" y="7" width="3" height="1" fill="#9a9a9a"/>
<rect x="577" y="8" width="3" height="1" fill="#fafafa"/>
<rect x="576" y="9" width="3" height="1" fill="#9a9a9a"/>
<rect x="577" y="10" width="3" height="1" fill="#fafafa"/>
<rect x="576" y="11" width="3" height="1" fill="#9a9a9a"/>
<rect x="577" y="12" width="3" height="1" fill="#fafafa"/>
<rect x="576" y="13" width="3" height="1" fill="#9a9a9a"/>
<rect x="577" y="14" width="3" height="1" fill="#fafafa"/>
<rect x="576" y="15" width="3" height="1" fill="#9a9a9a"/>
<rect x="577" y="16" width="3" height="1" fill="#fafafa"/>
<rect x="576" y="17" width="3" height="1" fill="#9a9a9a"/>
<rect x="577" y="18" width="3" height="1" fill="#fafafa"/>
<rect x="882" y="1" width="3" height="1" fill="#9a9a9a"/>
<rect x="883" y="2" width="3" height="1" fill="#fafafa"/>
<rect x="882" y="3" width="3" height="1" fill="#9a9a9a"/>
<rect x="883" y="4" width="3" height="1" fill="#fafafa"/>
<rect x="882" y="5" width="3" height="1" fill="#9a9a9a"/>
<rect x="883" y="6" width="3" height="1" fill="#fafafa"/>
<rect x="882" y="7" width="3" height="1" fill="#9a9a9a"/>
<rect x="883" y="8" width="3" height="1" fill="#fafafa"/>
<rect x="882" y="9" width="3" height="1" fill="#9a9a9a"/>
<rect x="883" y="10" width="3" height="1" fill="#fafafa"/>
<rect x="882" y="11" width="3" height="1" fill="#9a9a9a"/>
<rect x="883" y="12" width="3" height="1" fill="#fafafa"/>
<rect x="882" y="13" width="3" height="1" fill="#9a9a9a"/>
<rect x="883" y="14" width="3" height="1" fill="#fafafa"/>
<rect x="882" y="15" width="3" height="1" fill="#9a9a9a"/>
<rect x="883" y="16" width="3" height="1" fill="#fafafa"/>
<rect x="882" y="17" width="3" height="1" fill="#9a9a9a"/>
<rect x="883" y="18" width="3" height="1" fill="#fafafa"/>
<text x="-3.4" y="12.2" font-size="12.4" font-family='"Liberation Sans", "Noto Sans CJK SC", sans-serif' fill="#000" stroke="#000" stroke-width=".25" textLength="36.4" lengthAdjust="spacingAndGlyphs">新订单</text>
<text x="149.4" y="12.2" font-size="12.2" font-family='"Liberation Sans", "Noto Sans CJK SC", sans-serif' fill="#000" stroke="#000" stroke-width=".25" textLength="46.4" lengthAdjust="spacingAndGlyphs">自动交易</text>
<text x="893.5" y="13" font-size="9.8" fill="#3c3c3c" stroke="#3c3c3c" stroke-width="0.2" textLength="12.8" lengthAdjust="spacingAndGlyphs" >M1</text>
<text x="921.5" y="13" font-size="9.8" fill="#3c3c3c" stroke="#3c3c3c" stroke-width="0.2" textLength="12.8" lengthAdjust="spacingAndGlyphs" >M5</text>
<text x="947.4" y="13" font-size="9.8" fill="#3c3c3c" stroke="#3c3c3c" stroke-width="0.2" textLength="17.6" lengthAdjust="spacingAndGlyphs" >M15</text>
<text x="975.5" y="13" font-size="9.8" fill="#3c3c3c" stroke="#3c3c3c" stroke-width="0.2" textLength="18.1" lengthAdjust="spacingAndGlyphs" >M30</text>
<text x="1006.4" y="13" font-size="9.8" fill="#3c3c3c" stroke="#3c3c3c" stroke-width="0.2" textLength="12.0" lengthAdjust="spacingAndGlyphs" >H1</text>
<text x="1033.6" y="13" font-size="9.8" fill="#3c3c3c" stroke="#3c3c3c" stroke-width="0.2" textLength="12.4" lengthAdjust="spacingAndGlyphs" >H4</text>
<text x="1062.4" y="13" font-size="9.8" fill="#3c3c3c" stroke="#3c3c3c" stroke-width="0.2" textLength="11.9" lengthAdjust="spacingAndGlyphs" >D1</text>
<text x="1090" y="13" font-size="9.8" fill="#3c3c3c" stroke="#3c3c3c" stroke-width="0.2" textLength="14.4" lengthAdjust="spacingAndGlyphs" >W1</text>
<text x="1116.7" y="13" font-size="9.8" fill="#3c3c3c" stroke="#3c3c3c" stroke-width="0.2" textLength="14.9" lengthAdjust="spacingAndGlyphs" >MN</text>
<g shape-rendering="geometricPrecision">
<g stroke-linejoin="round"><path d="M45.2 10.7 L53.3 14.5 L52.8 16.8 L45 11.9z" fill="#d49a1c" stroke="#8a5608" stroke-width=".9"/><path d="M53.3 14.5 L60 8.5 L60.9 10.9 L52.8 16.8z" fill="#efe4ba" stroke="#8a5608" stroke-width=".9"/><path d="M53.6 15.4 L60.3 9.7" stroke="#b89a50" stroke-width=".6"/><path d="M50.4 2.2 L60 8.5 L53.3 14.5 L45.2 10.7 Q47.6 8.8 48.8 6.2z" fill="url(#gold)" stroke="#8a5608" stroke-width=".9"/><path d="M46.2 10.6 L53 13.7" stroke="#fbe68a" stroke-width=".9"/></g>
<g><path d="M75 2.2 L79.5 1.3 L86 2.4 L86 11 L75 11z" fill="#159af2" stroke="#0a7fe0" stroke-width=".6"/><path d="M75.3 2.4 L78.4 4.2 L78.4 11" fill="none" stroke="#d8f0ff" stroke-width=".8"/><rect x="80" y="5.6" width="4.4" height="1.3" fill="#e8f6ff"/><path d="M75.6 16.5 Q73 16.4 73.3 14 Q73.8 11.6 76.4 12.2 Q77 9.4 80.2 9.4 Q83.2 9.2 84.2 11.8 Q87.2 10.6 88.4 13.2 Q89.2 16.4 86.4 16.5z" fill="url(#cloud)" stroke="#3c5c9e" stroke-width="1"/></g>
<g fill="none"><circle cx="109" cy="8.8" r="7.6" fill="url(#sigg)"/><path d="M105.2 2.6 A7.2 7.2 0 0 0 105.4 15" stroke="#3a66d8" stroke-opacity=".55" stroke-width="1.3"/><path d="M106.6 4.9 A4.6 4.6 0 0 0 106.8 12.8" stroke="#3a66d8" stroke-opacity=".6" stroke-width="1.2"/><path d="M107 1.9 A7.2 7.2 0 0 1 113.6 3.2" stroke="#7a98d8" stroke-opacity=".5" stroke-width="1.2"/><path d="M107.8 4.4 A4.6 4.6 0 0 1 113.4 7.6" stroke="#7a98d8" stroke-opacity=".45" stroke-width="1.1"/><path d="M109.6 16.2 A7.3 7.3 0 0 0 116.2 7.6" stroke="#2c8c3a" stroke-opacity=".8" stroke-width="1.5"/><path d="M110.4 13.2 A4.6 4.6 0 0 0 113.6 8.6" stroke="#3c9c4a" stroke-opacity=".55" stroke-width="1.1"/><circle cx="108.8" cy="8.6" r="2" fill="#2456d0"/><path d="M109.5 9 V16.7" stroke="#18a018" stroke-width="1.5"/></g>
<g><path d="M128.4 8.2 L144 7.4 L142.4 11.6 L137.6 16.9 L134.4 15.8z" fill="url(#face)" stroke="#c08c10" stroke-width=".8" stroke-linejoin="round"/><path d="M128.2 5.6 Q129 3.2 132.4 4.6 L139.6 4.6 Q143.2 3 144 5.6 Q143.4 8.6 136 8.8 Q129 8.6 128.2 5.6z" fill="url(#hat)" stroke="#2a88b8" stroke-width=".8"/><path d="M132.2 5.4 Q132.4 1.2 136 1.2 Q139.6 1.2 139.8 5.4 Q136 6.8 132.2 5.4z" fill="#86ccee" stroke="#2a88b8" stroke-width=".7"/><circle cx="140.5" cy="12.8" r="3.9" fill="#e22a08" stroke="#b81800" stroke-width=".6"/><rect x="139.1" y="11.4" width="2.8" height="2.8" fill="#fff"/></g>
<g><path d="M222.5 3.5V17 M220 14.5H233.5" stroke="#555" stroke-width="1" fill="none"/><path d="M221 5.2 L222.5 2.8 L224 5.2z M232 13 L234.2 14.5 L232 16z" fill="#555"/><path d="M228.5 4V12.5 M228.5 5.5H231 M226 11.5H228.5" stroke="#008a00" stroke-width="1.2" fill="none"/></g>
<g><path d="M250.5 3.5V17 M248 14.5H261.5" stroke="#555" stroke-width="1" fill="none"/><path d="M249 5.2 L250.5 2.8 L252 5.2z M260 13 L262.2 14.5 L260 16z" fill="#555"/><path d="M256.5 1V12.6" stroke="#008a00" stroke-width="1.2"/><rect x="254.3" y="3.6" width="4.4" height="6.8" fill="url(#gcandle)" stroke="#008a00" stroke-width="1"/></g>
<g><path d="M278.5 3.5V17 M276 14.5H289.5" stroke="#555" stroke-width="1" fill="none"/><path d="M277 5.2 L278.5 2.8 L280 5.2z M288 13 L290.2 14.5 L288 16z" fill="#555"/><path d="M276.6 11.4 Q280 8 282.4 6.2 Q284 5.6 286 8 Q287.6 9.6 289.4 9.8" stroke="#1a9a1a" stroke-width="1.1" fill="none"/></g>
<g><path d="M318.6 11.4 L322.7 15.3" stroke="#9a6a00" stroke-width="3.4" stroke-linecap="round"/><path d="M318.8 11.6 L322.5 15.1" stroke="#ecd040" stroke-width="1.8" stroke-linecap="round"/><circle cx="314" cy="6.8" r="5.4" fill="url(#lens)" stroke="#2a7ad0" stroke-width="1.3"/><path d="M311 6.8H317" stroke="#3a86b4" stroke-width="1.8"/><path d="M314 3.8V9.8" stroke="#3a86b4" stroke-width="1.8"/></g>
<g><path d="M346.40000000000003 11.4 L350.5 15.3" stroke="#9a6a00" stroke-width="3.4" stroke-linecap="round"/><path d="M346.6 11.6 L350.3 15.1" stroke="#ecd040" stroke-width="1.8" stroke-linecap="round"/><circle cx="341.8" cy="6.8" r="5.4" fill="url(#lens)" stroke="#2a7ad0" stroke-width="1.3"/><path d="M338.8 6.8H344.8" stroke="#3a86b4" stroke-width="1.8"/></g>
<g><rect x="364" y="1" width="8" height="8" fill="#2f9e14"/><rect x="365.2" y="4" width="5.6" height="3.8" fill="#fff"/><rect x="366.2" y="5" width="3.6" height="1" fill="#2f9e14" fill-opacity=".55"/><rect x="365" y="2" width="1" height="1" fill="#fff" fill-opacity=".8"/><rect x="372" y="1" width="8" height="8" fill="#1444cc"/><rect x="373.2" y="4" width="5.6" height="3.8" fill="#fff"/><rect x="374.2" y="5" width="3.6" height="1" fill="#1444cc" fill-opacity=".55"/><rect x="373" y="2" width="1" height="1" fill="#fff" fill-opacity=".8"/><rect x="364" y="9" width="8" height="8" fill="#1444cc"/><rect x="365.2" y="12" width="5.6" height="3.8" fill="#fff"/><rect x="366.2" y="13" width="3.6" height="1" fill="#1444cc" fill-opacity=".55"/><rect x="365" y="10" width="1" height="1" fill="#fff" fill-opacity=".8"/><rect x="372" y="9" width="8" height="8" fill="#2f9e14"/><rect x="373.2" y="12" width="5.6" height="3.8" fill="#fff"/><rect x="374.2" y="13" width="3.6" height="1" fill="#2f9e14" fill-opacity=".55"/><rect x="373" y="10" width="1" height="1" fill="#fff" fill-opacity=".8"/></g>
<g><path d="M402.5 3.5V17 M400 14.5H413.5" stroke="#555" stroke-width="1" fill="none"/><path d="M401 5.2 L402.5 2.8 L404 5.2z M412 13 L414.2 14.5 L412 16z" fill="#555"/><path d="M407.4 5.2 L411 8.4 L407.4 11.4z" fill="#9ae89a" stroke="#12a012" stroke-width="1"/></g>
<g><path d="M430.5 3.5V17 M428 14.5H441.5" stroke="#555" stroke-width="1" fill="none"/><path d="M429 5.2 L430.5 2.8 L432 5.2z M440 13 L442.2 14.5 L440 16z" fill="#555"/><path d="M436.5 3V13" stroke="#0f6fa0" stroke-width="1.2"/><path d="M437.4 8.4 L440 6.2 L439.6 8 H441.8 V8.9 H439.6 L440 10.6z" fill="#e85000" stroke="#c03800" stroke-width=".4"/></g>
<g><path d="M461.6 1.6 H469.4 L472.4 4.6 V14.2 H461.6z" fill="#fff" stroke="#909090" stroke-width="1"/><path d="M469.2 1.8 V4.8 H472.2" fill="#e8e8e8" stroke="#909090" stroke-width=".7"/><path d="M466 5 Q464.4 5 464.6 7 V11.5" stroke="#555" stroke-width=".9" fill="none"/><path d="M463.6 8H466.4" stroke="#555" stroke-width=".8"/><path d="M469.6 7.6 H473 V11.4 H476.8 V14.8 H473 V18.4 H469.6 V14.8 H465.8 V11.4 H469.6z" fill="url(#gplus)" stroke="#0a7a0a" stroke-width=".8"/></g>
<g><circle cx="506.8" cy="9.1" r="6.7" fill="#f4f8ff" stroke="url(#clk)" stroke-width="2.3"/><path d="M506.6 5.6V9.4H509" stroke="#303030" stroke-width="1.1" fill="none"/><circle cx="506.8" cy="9.1" r="4.4" fill="none" stroke="#8aa0c4" stroke-width=".8" stroke-dasharray=".6 1.7"/></g>
<g><rect x="538.5" y="2.6" width="15" height="12.8" fill="#fff" stroke="#3a72c4" stroke-width="1"/><rect x="538" y="2.2" width="16" height="2.4" fill="#4a8ae0"/><path d="M539 9.4H553.4" stroke="#3a72c4" stroke-width=".9"/><path d="M540.6 8 L543 7.8 L545 6.4 L547 7.2 L549.4 6.8 L551.6 6" stroke="#a83010" stroke-width="1.1" fill="none"/><path d="M540.6 13.2 L543 12.4 L545 13 L547.6 11 L549.6 12.6 L551.6 13.2" stroke="#1a9a1a" stroke-width="1.1" fill="none"/></g>
<path d="M482.5 8 H488.5 L485.5 11.2z" fill="#000"/>
<path d="M521.4 8 H527.4 L524.4 11.2z" fill="#000"/>
<path d="M560.6 8 H566.6 L563.6 11.2z" fill="#000"/>
<path d="M866.5 8 H872.5 L869.5 11.2z" fill="#000"/>
<path d="M590.4 2.2 L590.4 13.2 L592.9 10.9 L595.3 16.2 L597.1 15.4 L594.7 10.2 L598.4 10.2z" fill="#4a4a4a"/>
<path d="M622.5 2V8 M622.5 10.7V17 M615 9.4H621 M624 9.4H630" stroke="#505050" stroke-width="1.1" fill="none"/><rect x="622" y="8.9" width="1" height="1" fill="#505050"/>
<path d="M656.5 3V16.2" stroke="#555" stroke-width="1.1"/><path d="M679 9.4H691" stroke="#555" stroke-width="1.1"/><path d="M706.8 15.8 L719 4.2" stroke="#555" stroke-width="1.1"/>
<g stroke="#4a4a4a" stroke-width="1.1" fill="none"><path d="M732.6 11 L741.6 3.2 M735.6 15.8 L746.4 6.6"/><path d="M734.6 7.6 L736.8 15.6 M737.6 5 L739.8 13 M740.6 2.2 L742.8 10.4 M743.4 1.4 L744.6 6.2" stroke-width=".9"/></g>
<text x="744.2" y="17.6" font-size="6.6" fill="#3a3a3a" textLength="3.8" lengthAdjust="spacingAndGlyphs" font-weight="bold">E</text>
<path d="M762 2.4H775.4" stroke="#555" stroke-width="1" stroke-dasharray="1 1" fill="none"/>
<path d="M762 5.4H775.4" stroke="#555" stroke-width="1" stroke-dasharray="1 1" fill="none"/>
<path d="M762 9.3H775.4" stroke="#555" stroke-width="1" stroke-dasharray="1 1" fill="none"/>
<path d="M762 13.6H771" stroke="#555" stroke-width="1" stroke-dasharray="1 1" fill="none"/>
<text x="772.2" y="17.6" font-size="6.6" fill="#3a3a3a" textLength="3.6" lengthAdjust="spacingAndGlyphs" font-weight="bold">F</text>
<text x="792.8" y="14" font-size="12.5" fill="#555" stroke="#555" stroke-width="0.45" textLength="7.8" lengthAdjust="spacingAndGlyphs" >A</text>
<rect x="819.5" y="3.5" width="11" height="12" fill="none" stroke="#555" stroke-width="1" stroke-dasharray="1 1" shape-rendering="crispEdges"/>
<text x="821.8" y="14" font-size="11.5" fill="#555" stroke="#555" stroke-width="0.5" textLength="7" lengthAdjust="spacingAndGlyphs" >T</text>
<g fill="#505050"><path d="M846.4 5.6 L849.8 2.6 L853.2 5.6 L849.8 7.4z"/><path d="M853.2 12.8 L856.6 11 L860 12.8 L856.6 16z"/><path d="M848.2 9.6 L850.4 11.6 L856 6.4" stroke="#505050" stroke-width="1.3" fill="none"/></g>
<g><path d="M1605.9 10.1 L1602 13.6" stroke="#2050c8" stroke-width="2.6" stroke-linecap="round"/><circle cx="1609.6" cy="6.5" r="3.7" fill="#f0f0ff" stroke="#2a5cd0" stroke-width="1.3"/></g>
<g><path d="M1627 9 Q1626 15 1630 15.2 L1629.6 17.8 L1632.6 15.3 Q1640 15.6 1640.6 11 Q1640 6 1633.6 6.2 Q1627.6 6.2 1627 9z" fill="#e0e2ea" stroke="#b4b4b8" stroke-width=".9"/><circle cx="1640.5" cy="6.7" r="8.2" fill="url(#badge)"/></g>
<text x="1636.2" y="11" font-size="12.5" fill="#fff" stroke="#fff" stroke-width="0.3" textLength="6" lengthAdjust="spacingAndGlyphs" font-family='"Liberation Serif", serif' font-weight="bold">1</text>
</g>
</svg>
</body></html>
